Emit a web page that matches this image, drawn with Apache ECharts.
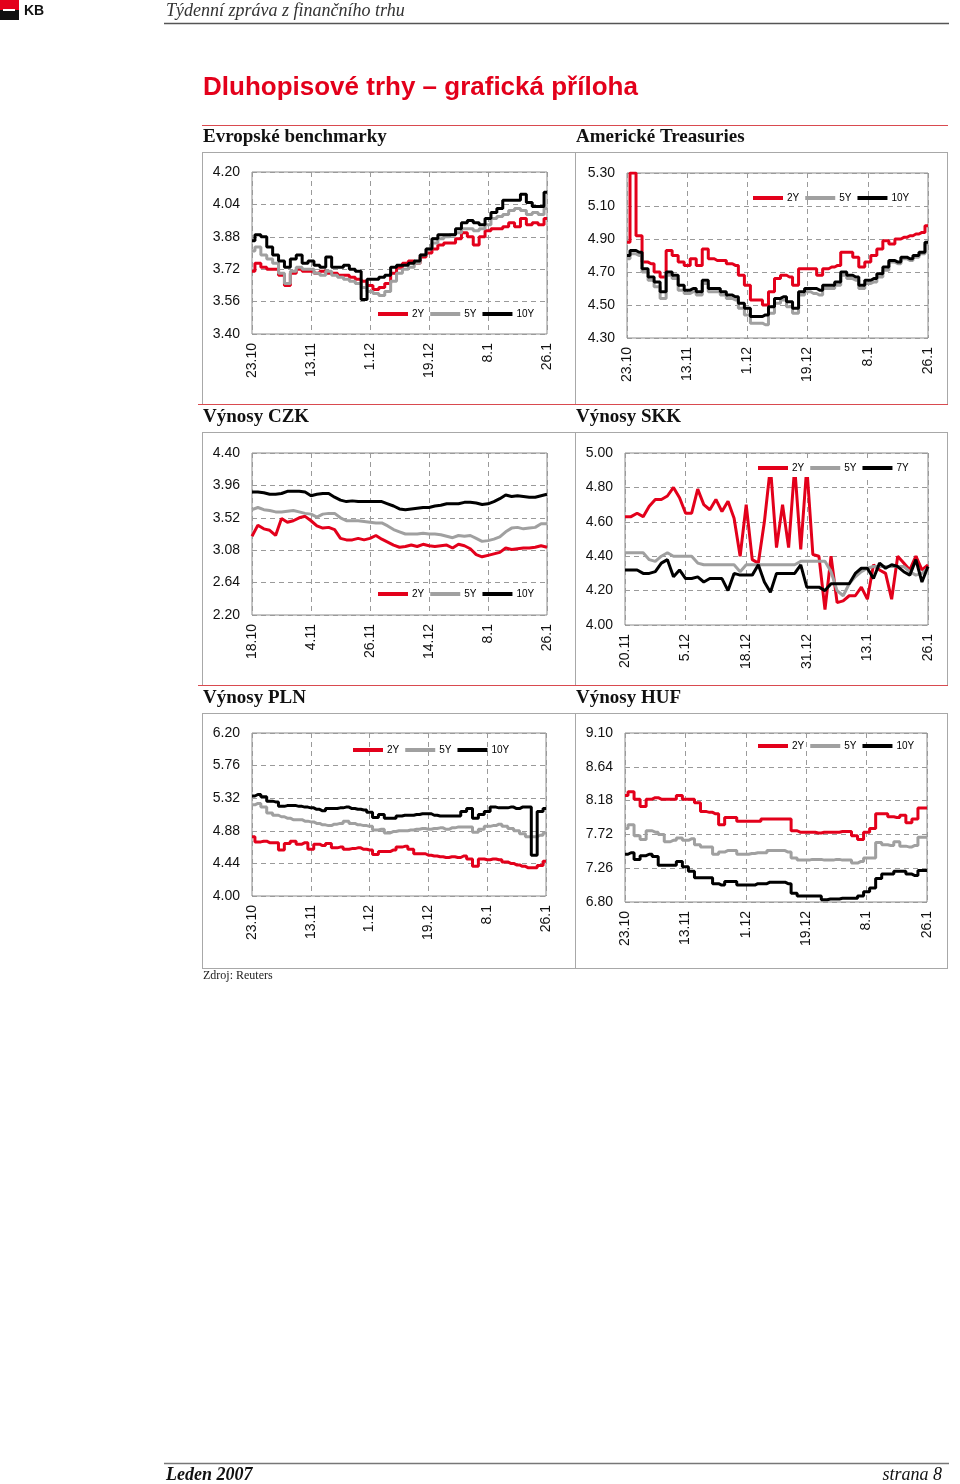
<!DOCTYPE html>
<html><head><meta charset="utf-8">
<script src="https://cdn.jsdelivr.net/npm/echarts@6/dist/echarts.min.js"></script>
<style>html,body{margin:0;padding:0;background:#fff}#c{width:960px;height:1484px}</style>
</head><body><div id="c"></div><script>
// ---- Evropské benchmarky ----
const eurTicks = ['23.10','13.11','1.12','19.12','8.1','26.1'];
const eur2Y = [3.71,3.75,3.73,3.72,3.72,3.69,3.64,3.70,3.72,3.71, 3.71,3.70,3.71,3.70,3.70,3.69,3.69,3.68,3.67,3.66, 3.64,3.62,3.63,3.65,3.70,3.73,3.75,3.76,3.75,3.78, 3.80,3.82,3.84,3.85,3.85,3.87,3.90,3.88,3.84,3.88, 3.91,3.92,3.92,3.93,3.95,3.93,3.97,3.94,3.95,3.94, 3.97];
const eur5Y = [3.81,3.83,3.79,3.77,3.75,3.70,3.65,3.71,3.73,3.72, 3.72,3.70,3.69,3.71,3.69,3.68,3.67,3.66,3.65,3.63, 3.61,3.60,3.59,3.61,3.66,3.70,3.72,3.73,3.75,3.79, 3.82,3.85,3.87,3.88,3.89,3.90,3.92,3.92,3.91,3.92, 3.94,3.97,3.98,3.99,4.01,4.02,4.01,3.99,4.00,3.99, 4.02];
const eur10Y = [3.86,3.89,3.88,3.83,3.79,3.76,3.73,3.77,3.79,3.75, 3.76,3.74,3.73,3.78,3.73,3.73,3.74,3.72,3.71,3.57, 3.67,3.67,3.68,3.69,3.73,3.74,3.74,3.75,3.76,3.79, 3.82,3.87,3.89,3.89,3.89,3.92,3.95,3.96,3.95,3.94, 3.97,4.00,4.02,4.06,4.06,4.06,4.09,4.05,4.03,4.03, 4.10];
// ---- Americké Treasuries ----
const usTicks = ['23.10','13.11','1.12','19.12','8.1','26.1'];
const us2Y = [4.88,5.30,4.92,4.76,4.75,4.70,4.67,4.83,4.80,4.76, 4.74,4.78,4.74,4.84,4.78,4.77,4.77,4.75,4.74,4.68, 4.62,4.53,4.53,4.50,4.58,4.66,4.68,4.67,4.62,4.72, 4.72,4.72,4.68,4.72,4.73,4.74,4.82,4.82,4.79,4.73, 4.76,4.80,4.84,4.89,4.87,4.90,4.91,4.92,4.93,4.94, 4.98];
const us5Y = [4.78,4.81,4.80,4.70,4.65,4.61,4.54,4.68,4.66,4.59, 4.57,4.58,4.56,4.63,4.58,4.58,4.56,4.54,4.53,4.48, 4.44,4.39,4.39,4.38,4.45,4.51,4.53,4.49,4.45,4.56, 4.58,4.57,4.56,4.60,4.60,4.62,4.68,4.66,4.65,4.60, 4.63,4.64,4.67,4.71,4.76,4.75,4.78,4.77,4.79,4.81, 4.87];
const us10Y = [4.80,4.83,4.82,4.72,4.67,4.64,4.58,4.70,4.68,4.62, 4.59,4.60,4.58,4.65,4.60,4.60,4.58,4.56,4.55,4.51, 4.48,4.43,4.43,4.44,4.49,4.54,4.55,4.52,4.48,4.58, 4.60,4.60,4.59,4.62,4.62,4.64,4.70,4.68,4.67,4.62, 4.65,4.66,4.69,4.73,4.77,4.76,4.79,4.78,4.80,4.82, 4.88];
// ---- Výnosy CZK ----
const czkTicks = ['18.10','4.11','26.11','14.12','8.1','26.1'];
const czk2Y = [3.27,3.42,3.37,3.35,3.28,3.51,3.46,3.48,3.52,3.54, 3.48,3.41,3.38,3.39,3.36,3.24,3.22,3.22,3.24,3.22, 3.24,3.28,3.23,3.19,3.15,3.12,3.13,3.15,3.13,3.16, 3.14,3.13,3.14,3.15,3.11,3.16,3.14,3.10,3.02,2.99, 3.01,3.03,3.05,3.11,3.09,3.10,3.11,3.11,3.12,3.14, 3.12];
const czk5Y = [3.63,3.66,3.63,3.62,3.60,3.60,3.61,3.62,3.60,3.58, 3.57,3.53,3.57,3.58,3.58,3.52,3.48,3.48,3.48,3.47, 3.46,3.45,3.45,3.41,3.36,3.33,3.30,3.30,3.30,3.31, 3.30,3.30,3.29,3.27,3.25,3.28,3.27,3.28,3.24,3.20, 3.21,3.23,3.26,3.33,3.38,3.39,3.37,3.38,3.39,3.44, 3.44];
const czk10Y = [3.87,3.87,3.86,3.84,3.84,3.85,3.88,3.88,3.88,3.87, 3.82,3.84,3.85,3.85,3.80,3.76,3.74,3.75,3.74,3.74, 3.74,3.74,3.74,3.71,3.68,3.64,3.63,3.64,3.65,3.66, 3.66,3.68,3.69,3.71,3.71,3.71,3.73,3.73,3.72,3.70, 3.71,3.74,3.78,3.83,3.81,3.82,3.81,3.80,3.80,3.82, 3.84];
// ---- Výnosy SKK ----
const skkTicks = ['20.11','5.12','18.12','31.12','13.1','26.1'];
const skk2Y = [4.63,4.63,4.65,4.63,4.69,4.73,4.73,4.75,4.80,4.74, 4.65,4.65,4.79,4.70,4.67,4.73,4.66,4.72,4.62,4.40, 4.70,4.38,4.36,4.60,4.92,4.45,4.70,4.45,4.92,4.44, 4.92,4.41,4.40,4.09,4.40,4.13,4.14,4.17,4.17,4.22, 4.15,4.35,4.32,4.30,4.15,4.40,4.36,4.32,4.40,4.32, 4.35];
const skk5Y = [4.42,4.42,4.42,4.42,4.38,4.37,4.40,4.42,4.40,4.40, 4.40,4.40,4.36,4.35,4.35,4.35,4.35,4.35,4.35,4.31, 4.35,4.35,4.35,4.35,4.35,4.35,4.35,4.35,4.35,4.37, 4.37,4.37,4.37,4.37,4.31,4.20,4.17,4.24,4.28,4.31, 4.33,4.34,4.34,4.34,4.34,4.34,4.34,4.31,4.29,4.30, 4.33];
const skk7Y = [4.32,4.32,4.32,4.30,4.30,4.31,4.36,4.38,4.28,4.32, 4.27,4.27,4.28,4.25,4.27,4.27,4.27,4.20,4.30,4.29, 4.29,4.29,4.35,4.25,4.19,4.30,4.30,4.30,4.30,4.35, 4.22,4.22,4.22,4.20,4.24,4.24,4.24,4.24,4.30,4.33, 4.33,4.27,4.36,4.33,4.35,4.34,4.31,4.29,4.38,4.25, 4.34];
// ---- Výnosy PLN ----
const plnTicks = ['23.10','13.11','1.12','19.12','8.1','26.1'];
const pln2Y = [4.80,4.73,4.74,4.72,4.72,4.62,4.71,4.74,4.70,4.72, 4.63,4.70,4.68,4.71,4.65,4.66,4.63,4.64,4.65,4.63, 4.62,4.56,4.60,4.60,4.62,4.66,4.67,4.63,4.57,4.57, 4.55,4.54,4.53,4.52,4.53,4.52,4.54,4.50,4.40,4.50, 4.49,4.50,4.49,4.46,4.44,4.42,4.40,4.38,4.38,4.41, 4.47];
const pln5Y = [5.23,5.25,5.20,5.12,5.09,5.07,5.05,5.03,5.03,5.01, 5.00,4.98,4.96,4.95,4.97,4.98,5.01,4.98,4.96,4.95, 4.94,4.89,4.90,4.85,4.87,4.88,4.88,4.89,4.90,4.91, 4.90,4.91,4.92,4.90,4.92,4.93,4.93,4.93,4.86,4.90, 4.94,4.95,4.97,4.94,4.91,4.88,4.84,4.80,4.80,4.82, 4.85];
const pln10Y = [5.35,5.37,5.34,5.28,5.27,5.21,5.22,5.22,5.21,5.20, 5.19,5.17,5.15,5.18,5.18,5.19,5.20,5.18,5.17,5.16, 5.13,5.06,5.10,5.05,5.05,5.08,5.09,5.09,5.10,5.11, 5.11,5.09,5.08,5.08,5.08,5.08,5.14,5.18,5.05,5.10, 5.14,5.20,5.19,5.19,5.20,5.18,5.20,5.20,4.55,5.14, 5.18];
// ---- Výnosy HUF ----
const hufTicks = ['23.10','13.11','1.12','19.12','8.1','26.1'];
const huf2Y = [8.25,8.30,8.20,8.10,8.20,8.22,8.20,8.20,8.20,8.25, 8.20,8.20,8.15,8.03,8.02,8.00,7.85,7.95,7.95,7.90, 7.90,7.90,7.90,7.93,7.93,7.93,7.93,7.93,7.77,7.75, 7.75,7.75,7.74,7.75,7.75,7.75,7.76,7.76,7.70,7.65, 7.75,7.80,8.00,8.00,7.96,7.95,7.98,7.88,7.93,8.08, 8.08];
const huf5Y = [7.80,7.85,7.70,7.65,7.77,7.75,7.72,7.62,7.64,7.67, 7.64,7.66,7.58,7.55,7.55,7.45,7.48,7.50,7.50,7.45, 7.45,7.46,7.47,7.47,7.50,7.50,7.50,7.48,7.40,7.37, 7.37,7.38,7.38,7.37,7.37,7.38,7.37,7.37,7.33,7.35, 7.40,7.40,7.61,7.58,7.57,7.62,7.56,7.55,7.57,7.68, 7.68];
const huf10Y = [7.45,7.47,7.38,7.43,7.45,7.42,7.30,7.30,7.30,7.35, 7.28,7.22,7.13,7.13,7.13,7.05,7.03,7.08,7.08,7.03, 7.03,7.03,7.05,7.05,7.07,7.07,7.07,7.05,6.92,6.88, 6.88,6.88,6.88,6.83,6.84,6.84,6.85,6.85,6.85,6.88, 6.94,6.99,7.12,7.18,7.18,7.22,7.22,7.18,7.16,7.23, 7.23];

const RED = '#e3001b', GREY = '#a0a0a0', BLACK = '#000000';
const COLORS = {'2Y': RED, '5Y': GREY, '10Y': BLACK, '7Y': BLACK};
const SANS = '"Liberation Sans", Arial, sans-serif';
const SERIF = '"Liberation Serif", "Times New Roman", serif';

const panels = [
  {ticks: eurTicks, y: [3.40, 4.20, 0.16], grid: {left: 252, top: 172, width: 295, height: 162}, step: 'middle',
   series: [['2Y', eur2Y], ['5Y', eur5Y], ['10Y', eur10Y]], legend: {left: 378, top: 309}},
  {ticks: usTicks, y: [4.30, 5.30, 0.20], grid: {left: 627, top: 173, width: 301, height: 165}, step: 'middle',
   series: [['2Y', us2Y], ['5Y', us5Y], ['10Y', us10Y]], legend: {left: 753, top: 193}},
  {ticks: czkTicks, y: [2.20, 4.40, 0.44], grid: {left: 252, top: 453, width: 295, height: 162}, step: false,
   series: [['2Y', czk2Y], ['5Y', czk5Y], ['10Y', czk10Y]], legend: {left: 378, top: 589}},
  {ticks: skkTicks, y: [4.00, 5.00, 0.20], grid: {left: 625, top: 453, width: 303, height: 172}, step: false,
   series: [['2Y', skk2Y], ['5Y', skk5Y], ['7Y', skk7Y]], legend: {left: 754, top: 459, bg: true}},
  {ticks: plnTicks, y: [4.00, 6.20, 0.44], grid: {left: 252, top: 733, width: 294, height: 163}, step: 'middle',
   series: [['2Y', pln2Y], ['5Y', pln5Y], ['10Y', pln10Y]], legend: {left: 353, top: 745}},
  {ticks: hufTicks, y: [6.80, 9.10, 0.46], grid: {left: 625, top: 733, width: 302, height: 169}, step: 'middle',
   series: [['2Y', huf2Y], ['5Y', huf5Y], ['10Y', huf10Y]], legend: {left: 758, top: 741}}
];

const grids = [], xAxes = [], yAxes = [], series = [], legends = [];
panels.forEach((p, k) => {
  grids.push(Object.assign({show: true, borderColor: '#8c8c8c', borderWidth: 1, backgroundColor: 'transparent', containLabel: false}, p.grid));
  const n = p.series[0][1].length - 1;
  const step = n / (p.ticks.length - 1);
  xAxes.push({
    type: 'value', gridIndex: k, min: 0, max: n, interval: step,
    axisLine: {show: false}, axisTick: {show: false},
    splitLine: {show: true, lineStyle: {color: '#9a9a9a', type: [5, 4], width: 1}},
    axisLabel: {rotate: 90, margin: 9, fontSize: 14, color: '#111', fontFamily: SANS,
      formatter: v => p.ticks[Math.round(v / step)] || ''}
  });
  yAxes.push({
    type: 'value', gridIndex: k, min: p.y[0], max: p.y[1], interval: p.y[2],
    axisLine: {show: false}, axisTick: {show: false},
    splitLine: {show: true, lineStyle: {color: '#9a9a9a', type: [5, 4], width: 1}},
    axisLabel: {margin: 12, fontSize: 14, color: '#111', fontFamily: SANS, formatter: v => v.toFixed(2)}
  });
  p.series.forEach(([name, vals]) => {
    series.push({
      type: 'line', name, xAxisIndex: k, yAxisIndex: k, step: p.step,
      data: vals.map((v, i) => [i, v]), showSymbol: false, symbol: 'none',
      color: COLORS[name], lineStyle: {color: COLORS[name], width: 3}, animation: false
    });
  });
  legends.push({
    data: p.series.map(s => s[0]), left: p.legend.left, top: p.legend.top,
    icon: 'rect', itemWidth: 30, itemHeight: 4, itemGap: 6, selectedMode: false,
    padding: p.legend.bg ? 4 : 0, backgroundColor: p.legend.bg ? '#ffffff' : 'transparent',
    textStyle: {fontSize: 10, color: '#000', fontFamily: SANS, padding: [0, 0, 0, -1]}
  });
});

function txt(x, y, text, font, fill, align) {
  return {type: 'text', x, y, z: 10, style: {text, font, fill, textAlign: align || 'left', align: align || 'left',
    textVerticalAlign: 'middle', verticalAlign: 'middle'}};
}
function ln(x1, y1, x2, y2, stroke, w) {
  return {type: 'line', z: 10, shape: {x1, y1, x2, y2}, style: {stroke, lineWidth: w || 1}};
}
const BOX = '#a8a8a8', SEP = '#d94a4f';
const graphics = [
  {type: 'rect', z: 10, shape: {x: 0, y: 0, width: 19, height: 10}, style: {fill: '#e3001b'}},
  {type: 'rect', z: 10, shape: {x: 0, y: 10, width: 19, height: 10}, style: {fill: '#111'}},
  {type: 'rect', z: 11, shape: {x: 3, y: 9, width: 12, height: 2}, style: {fill: '#fff'}},
  txt(24, 11, 'KB', 'bold 14px ' + SANS, '#111'),
  txt(166, 11, 'Týdenní zpráva z finančního trhu', 'italic 18px ' + SERIF, '#333'),
  ln(164, 23.5, 949, 23.5, '#555', 1.5),
  txt(203, 88, 'Dluhopisové trhy – grafická příloha', 'bold 26px ' + SANS, '#e3001b'),
  ln(202, 125.5, 948, 125.5, SEP, 1.2),
  txt(203, 137, 'Evropské benchmarky', 'bold 19px ' + SERIF, '#111'),
  txt(576, 137, 'Americké Treasuries', 'bold 19px ' + SERIF, '#111'),
  txt(203, 417, 'Výnosy CZK', 'bold 19px ' + SERIF, '#111'),
  txt(576, 417, 'Výnosy SKK', 'bold 19px ' + SERIF, '#111'),
  txt(203, 698, 'Výnosy PLN', 'bold 19px ' + SERIF, '#111'),
  txt(576, 698, 'Výnosy HUF', 'bold 19px ' + SERIF, '#111'),
  // row 1 box
  ln(202, 152.5, 948, 152.5, BOX), ln(202.5, 152, 202.5, 404, BOX), ln(575.5, 152, 575.5, 404, BOX), ln(947.5, 152, 947.5, 404, BOX),
  ln(198, 404.5, 948, 404.5, SEP, 1.2),
  // row 2 box
  ln(202, 432.5, 948, 432.5, BOX), ln(202.5, 432, 202.5, 685, BOX), ln(575.5, 432, 575.5, 685, BOX), ln(947.5, 432, 947.5, 685, BOX),
  ln(198, 685.5, 948, 685.5, SEP, 1.2),
  // row 3 box
  ln(202, 713.5, 948, 713.5, BOX), ln(202.5, 713, 202.5, 968, BOX), ln(575.5, 713, 575.5, 968, BOX), ln(947.5, 713, 947.5, 968, BOX),
  ln(202, 968.5, 948, 968.5, BOX),
  txt(203, 976, 'Zdroj: Reuters', '12px ' + SERIF, '#222'),
  ln(164, 1463.5, 949, 1463.5, '#777', 1.5),
  txt(166, 1475, 'Leden 2007', 'bold italic 18px ' + SERIF, '#111'),
  txt(942, 1475, 'strana 8', 'italic 18px ' + SERIF, '#111', 'right')
];

const chart = echarts.init(document.getElementById('c'), null, {renderer: 'canvas'});
chart.setOption({
  backgroundColor: '#ffffff', animation: false,
  grid: grids, xAxis: xAxes, yAxis: yAxes, series, legend: legends,
  graphic: graphics
});
</script></body></html>
